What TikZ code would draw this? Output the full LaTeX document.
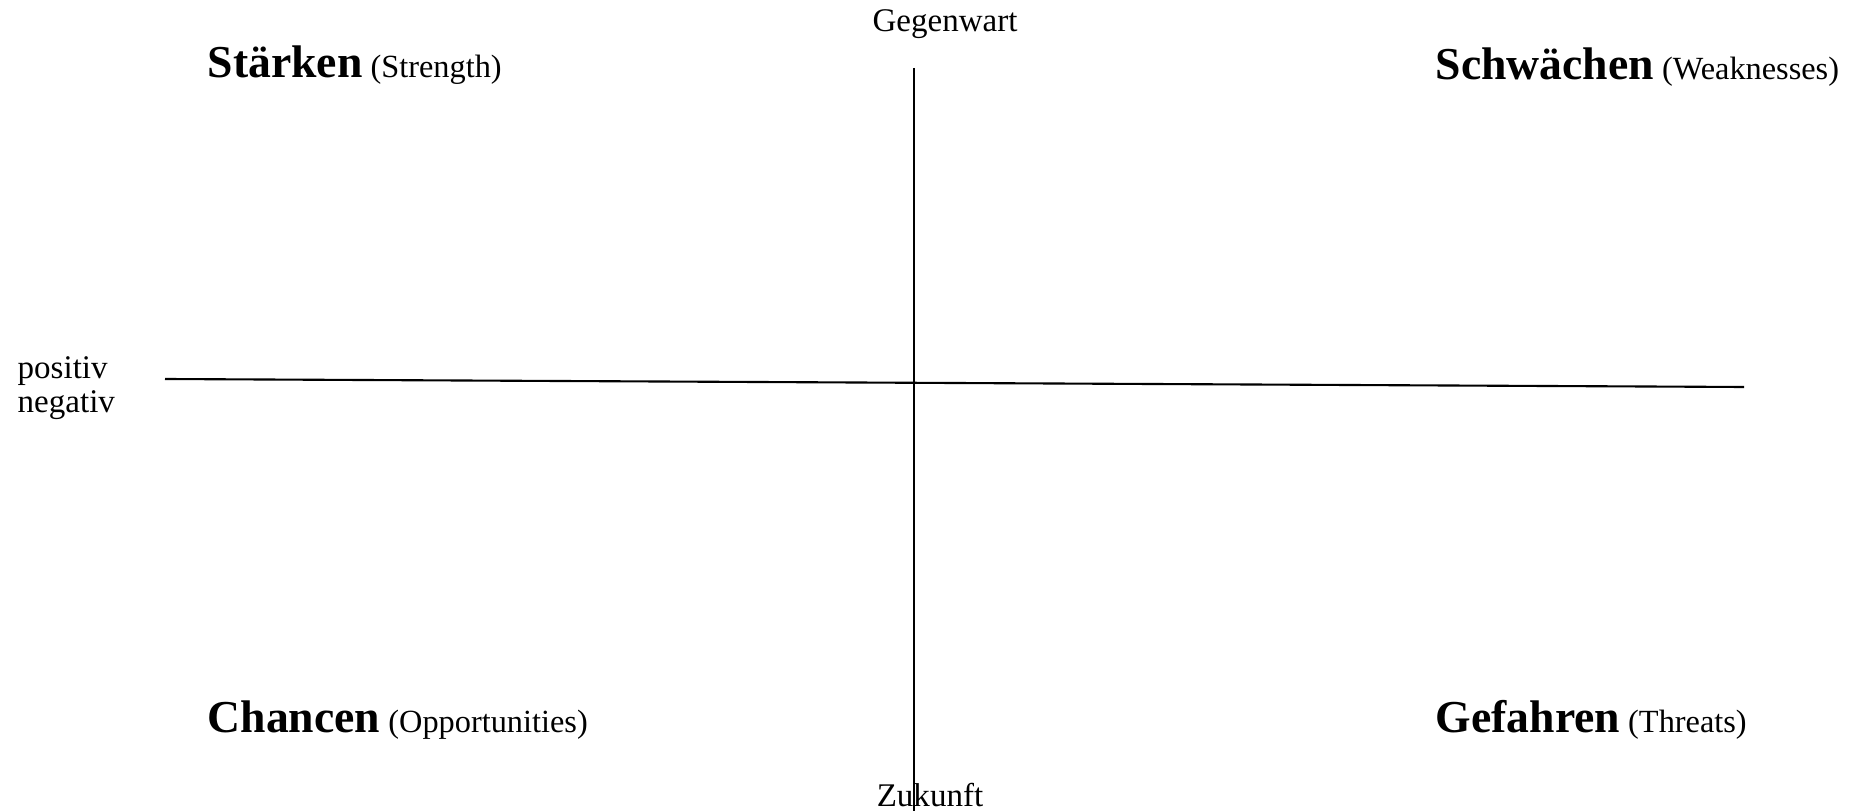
\documentclass[tikz,border=0pt]{standalone}
\usepackage{fontspec}
\setmainfont{Liberation Serif}
\usepackage{tikz}
\usetikzlibrary{positioning}

\newcommand{\swotname}[2]{{\fontsize{13}{15}\selectfont\bfseries #1} (#2)}

\begin{document}
\begin{tikzpicture}[x=0.1mm,y=-0.1mm,
  axis/.style={line width=0.6pt,black},
  axislabel/.style={inner sep=0pt,font=\fontsize{9.4}{11}\selectfont},
  quadrant/.style={anchor=base west,inner sep=0pt,font=\fontsize{9.2}{11}\selectfont},
]
\useasboundingbox (0,0) rectangle (1874,811);

% axes
\coordinate (top) at (914,68);
\coordinate (bottom) at (914,811);
\coordinate (left) at (165,379);
\coordinate (right) at (1744,387);
\draw[axis] (top) -- (bottom);
\draw[axis] (left) -- (right);

% axis labels
\node[axislabel,anchor=base] (present) at (945,32) {Gegenwart};
\node[axislabel,anchor=base] (future) at (930,806) {Zukunft};
\node[axislabel,anchor=base west] (pos) at (17,379) {positiv};
\node[axislabel,anchor=base west] (neg) at (17,413) {negativ};

% quadrants
\node[quadrant] (s) at (207,78) {\swotname{Stärken}{Strength}};
\node[quadrant] (w) at (1435,80) {\swotname{Schwächen}{Weaknesses}};
\node[quadrant] (o) at (207,732) {\swotname{Chancen}{Opportunities}};
\node[quadrant] (t) at (1435,732) {\swotname{Gefahren}{Threats}};
\end{tikzpicture}
\end{document}
